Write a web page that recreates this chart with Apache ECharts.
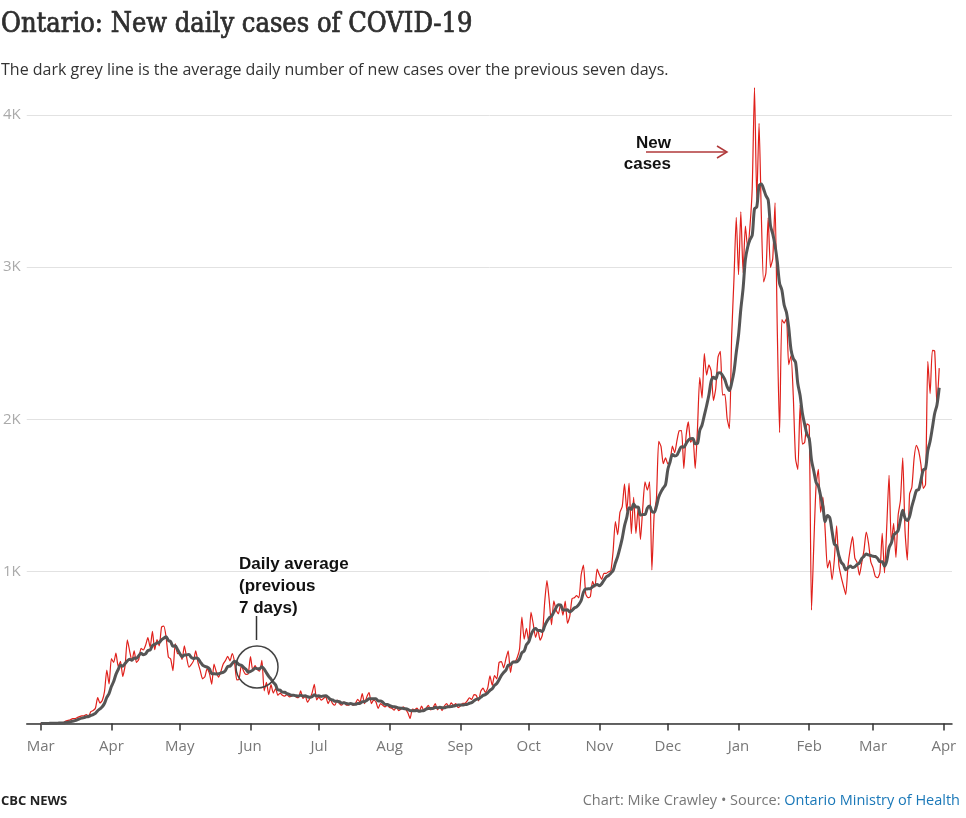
<!DOCTYPE html>
<html>
<head>
<meta charset="utf-8">
<title>Ontario: New daily cases of COVID-19</title>
<script src="https://cdn.jsdelivr.net/npm/echarts@6.0.0/dist/echarts.min.js"></script>
<style>
  html, body { margin: 0; padding: 0; background: #fff; }
  #main { width: 966px; height: 818px; }
</style>
</head>
<body>
<div id="main"></div>
<script>
// daily new cases, one array per month (from Mar 1 2020)
var casesMar20 = [0,0,1,2,1,2,6,2,5,3,5,17,20,24,32,32,39,45,50,51,59,48,78,85,100,170,135,151,211,351,260];
var casesApr20 = [426,401,462,375,408,309,379,550,478,411,478,401,421,494,483,514,564,502,606,485,551,510,634,640,567,437,424,347,525,460];
var casesMay20 = [459,421,511,434,370,387,412,477,399,346,294,308,361,329,258,391,340,304,341,390,413,441,412,460,404,287,292,383,344,323,326];
var casesJun20 = [440,350,380,356,344,415,215,270,190,255,200,230,185,200,185,180,190,175,180,190,175,170,215,165,180,140,165,200,257,155];
var casesJul20 = [175,153,164,175,131,158,131,120,153,131,120,142,120,120,131,120,131,158,142,197,131,175,203,131,153,142,99,131,120,109,120];
var casesAug20 = [105,100,88,109,85,95,110,95,70,33,95,90,102,78,115,85,100,120,90,105,130,90,110,85,115,130,110,135,120,130,105];
var casesSep20 = [114,133,132,148,169,158,190,185,149,213,232,204,232,313,251,315,293,401,407,365,425,478,335,409,409,435,491,700,554,625];
var casesOct20 = [538,732,653,566,615,548,583,797,939,809,649,807,746,721,783,712,805,658,704,821,827,841,826,978,1042,851,827,834,934,896,1015];
var casesNov20 = [977,948,987,987,998,1003,1132,1328,1242,1388,1426,1575,1396,1581,1248,1487,1249,1417,1210,1418,1588,1534,1589,1009,1373,1478,1855,1822,1708,1746];
var casesDec20 = [1707,1723,1824,1780,1859,1924,1925,1676,1890,1983,1848,1873,1677,1940,2275,2139,2432,2290,2357,2316,2123,2202,2408,2447,2159,2164,2005,1939,2553,2923,3328];
var casesJan21 = [2950,3363,2964,3270,3128,3266,3519,4180,3443,3945,3338,2903,2961,3326,2998,3056,3422,2578,1913,2655,2632,2662,2359,2417,2154,1740,1670,2093,1837,1848,1969];
var casesFeb21 = [1958,745,1172,1563,1670,1388,1489,1265,1022,1072,945,1076,1300,1041,964,904,847,1038,1150,1228,1087,1058,975,1054,1138,1258,1185,1062];
var casesMar21 = [1023,966,958,994,1250,990,1299,1631,1185,1316,1092,1371,1468,1747,1268,1074,1508,1553,1745,1829,1791,1699,1546,1571,2380,2169,2453,2448,2094,2336];

// average over the previous seven days
var avgMar20 = [0,0,0,0,1,1,2,2,3,3,3,6,8,11,15,19,24,30,35,39,44,46,53,59,67,84,96,110,133,172,197];
var avgApr20 = [243,276,323,355,383,377,394,412,423,416,430,429,445,462,452,457,479,483,512,521,529,533,550,561,570,546,538,508,511,486];
var avgMay20 = [460,439,450,451,454,435,428,430,427,404,384,375,371,359,328,327,326,327,332,336,348,374,377,394,409,401,387,383,369,356,337];
var avgJun20 = [342,351,364,360,360,373,357,333,310,292,270,254,221,219,206,205,196,192,185,186,182,180,185,181,182,176,173,176,189,180];
var avgJul20 = [182,178,181,183,173,159,155,147,147,143,135,136,131,129,131,126,126,132,132,143,144,151,162,162,162,162,148,148,140,126,125];
var avgAug20 = [118,112,110,107,102,100,99,97,93,85,83,84,85,80,83,85,95,99,99,99,106,103,106,104,104,109,110,111,115,118,121];
var avgSep20 = [121,121,124,126,133,137,149,159,162,173,185,190,201,218,228,251,263,287,316,335,351,383,386,403,404,408,426,465,476,518];
var avgOct20 = [536,582,613,624,612,611,605,642,672,694,706,733,761,781,779,747,746,747,733,743,759,767,783,808,863,884,885,886,899,909,914];
var avgNov20 = [905,919,942,963,973,988,1005,1055,1097,1154,1217,1299,1355,1419,1408,1443,1423,1422,1370,1373,1374,1415,1429,1395,1389,1427,1489,1523,1548,1570];
var avgDec20 = [1670,1720,1769,1759,1764,1795,1820,1816,1840,1862,1872,1874,1839,1841,1927,1962,2026,2089,2159,2250,2276,2266,2304,2306,2287,2260,2215,2189,2239,2313,2439];
var avgJan21 = [2552,2723,2860,3050,3132,3181,3209,3384,3396,3536,3546,3513,3470,3442,3273,3218,3143,3035,2893,2850,2751,2703,2603,2459,2399,2374,2233,2156,2039,1966,1902];
var avgFeb21 = [1874,1731,1660,1585,1561,1495,1426,1327,1367,1353,1264,1180,1167,1103,1060,1043,1011,1024,1035,1025,1031,1045,1055,1084,1099,1114,1108,1104];
var avgMar21 = [1099,1098,1084,1064,1063,1035,1069,1155,1187,1238,1252,1269,1337,1401,1350,1334,1361,1427,1480,1532,1538,1600,1667,1676,1794,1855,1944,2038,2094,2207];

// x axis ticks (month starts) and labels
var tickDates = ['2020-03-01','2020-04-01','2020-05-01','2020-06-01','2020-07-01','2020-08-01','2020-09-01',
                 '2020-10-01','2020-11-01','2020-12-01','2021-01-01','2021-02-01','2021-03-01','2021-04-01'];
var tickLabels = ['Mar','Apr','May','Jun','Jul','Aug','Sep','Oct','Nov','Dec','Jan','Feb','Mar','Apr'];

var casesParts = [casesMar20, casesApr20, casesMay20, casesJun20, casesJul20, casesAug20, casesSep20,
                  casesOct20, casesNov20, casesDec20, casesJan21, casesFeb21, casesMar21];
var avgParts = [avgMar20, avgApr20, avgMay20, avgJun20, avgJul20, avgAug20, avgSep20,
                avgOct20, avgNov20, avgDec20, avgJan21, avgFeb21, avgMar21];

// the x axis counts days since Mar 1 2020
var DAY = 86400000;
var start = Date.UTC(2020, 2, 1);

function dayOf(s) {
    var p = s.split('-');
    return Math.round((Date.UTC(+p[0], +p[1] - 1, +p[2]) - start) / DAY);
}

function toSeries(parts) {
    var out = [];
    var i = 0;
    parts.forEach(function (arr) {
        arr.forEach(function (v) {
            out.push([i, v]);
            i++;
        });
    });
    return out;
}

var tickDays = tickDates.map(dayOf);
var labelByDay = {};
tickDays.forEach(function (d, i) { labelByDay[d] = tickLabels[i]; });

var myChart = echarts.init(document.getElementById('main'));

var option = {
    backgroundColor: '#fff',
    animation: false,
    grid: {
        left: 26,
        right: 14,
        top: 115,
        bottom: 94.5,
        containLabel: false
    },
    xAxis: {
        type: 'value',
        min: -6.1,
        max: tickDays[tickDays.length - 1] + 3.6,
        axisLine: { lineStyle: { color: '#333', width: 1.5 } },
        axisTick: {
            customValues: tickDays,
            length: 7,
            lineStyle: { color: '#333', width: 1.5 }
        },
        axisLabel: {
            customValues: tickDays,
            formatter: function (v) {
                return labelByDay[Math.round(v)] || '';
            },
            color: '#777',
            fontFamily: 'Open Sans',
            fontSize: 15,
            margin: 16
        },
        splitLine: { show: false }
    },
    yAxis: {
        type: 'value',
        min: 0,
        max: 4000,
        interval: 1000,
        axisLine: { show: false },
        axisTick: { show: false },
        axisLabel: {
            formatter: function (v) {
                return v === 0 ? '' : (v / 1000) + 'K';
            },
            color: '#aaa',
            fontFamily: 'Open Sans',
            fontSize: 15,
            margin: 6
        },
        splitLine: { lineStyle: { color: '#e2e2e2', width: 1 } }
    },
    series: [
        {
            name: 'New cases',
            type: 'line',
            data: toSeries(casesParts),
            symbol: 'none',
            clip: false,
            smooth: 0.2,
            lineStyle: { color: '#e0201b', width: 1.2 },
            z: 2
        },
        {
            name: 'Daily average (previous 7 days)',
            type: 'line',
            data: toSeries(avgParts),
            symbol: 'none',
            clip: false,
            smooth: 0.3,
            lineStyle: { color: '#555', width: 3 },
            z: 3
        }
    ],
    graphic: [
        {
            type: 'text', x: 1, y: 25, z: 10,
            style: {
                text: 'Ontario: New daily cases of COVID-19',
                font: '27px "DejaVu Serif Condensed", "Liberation Serif"',
                fill: '#2e2e2e',
                stroke: '#2e2e2e',
                lineWidth: 0.7,
                align: 'left',
                verticalAlign: 'middle'
            }
        },
        {
            type: 'text', x: 1, y: 70, z: 10,
            style: {
                text: 'The dark grey line is the average daily number of new cases over the previous seven days.',
                font: '16px "Open Sans"',
                fill: '#333',
                align: 'left',
                verticalAlign: 'middle'
            }
        },
        // "New cases" label and arrow
        {
            type: 'text', x: 671, y: 133, z: 10,
            style: {
                text: 'New\ncases',
                font: 'bold 17px "Liberation Sans"',
                lineHeight: 21,
                fill: '#111',
                align: 'right',
                verticalAlign: 'top'
            }
        },
        {
            type: 'line', z: 10,
            shape: { x1: 646, y1: 152, x2: 727, y2: 152 },
            style: { stroke: '#b0393a', lineWidth: 1.5 }
        },
        {
            type: 'polyline', z: 10,
            shape: { points: [[717, 146], [727, 152], [717, 158]] },
            style: { stroke: '#b0393a', lineWidth: 1.5, fill: null }
        },
        // daily average label, pointer and circle
        {
            type: 'text', x: 239, y: 553, z: 10,
            style: {
                text: 'Daily average\n(previous\n7 days)',
                font: 'bold 17px "Liberation Sans"',
                lineHeight: 22,
                fill: '#111',
                align: 'left',
                verticalAlign: 'top'
            }
        },
        {
            type: 'line', z: 10,
            shape: { x1: 256.5, y1: 616, x2: 256.5, y2: 640 },
            style: { stroke: '#333', lineWidth: 1.5 }
        },
        {
            type: 'circle', z: 10,
            shape: { cx: 257, cy: 667, r: 21 },
            style: { stroke: '#444', lineWidth: 1.5, fill: null }
        },
        // footer
        {
            type: 'text', x: 1, y: 801, z: 10,
            style: {
                text: 'CBC NEWS',
                font: 'bold 13px "Open Sans"',
                fill: '#222',
                align: 'left',
                verticalAlign: 'middle'
            }
        },
        {
            type: 'text', x: 960, y: 801, z: 10,
            style: {
                text: '{a|Chart: Mike Crawley \u2022 Source: }{b|Ontario Ministry of Health}',
                align: 'right',
                verticalAlign: 'middle',
                rich: {
                    a: { fontFamily: 'Open Sans', fontSize: 14.5, fill: '#777' },
                    b: { fontFamily: 'Open Sans', fontSize: 14.5, fill: '#1a78b8' }
                }
            }
        }
    ]
};

myChart.setOption(option);
</script>
</body>
</html>
